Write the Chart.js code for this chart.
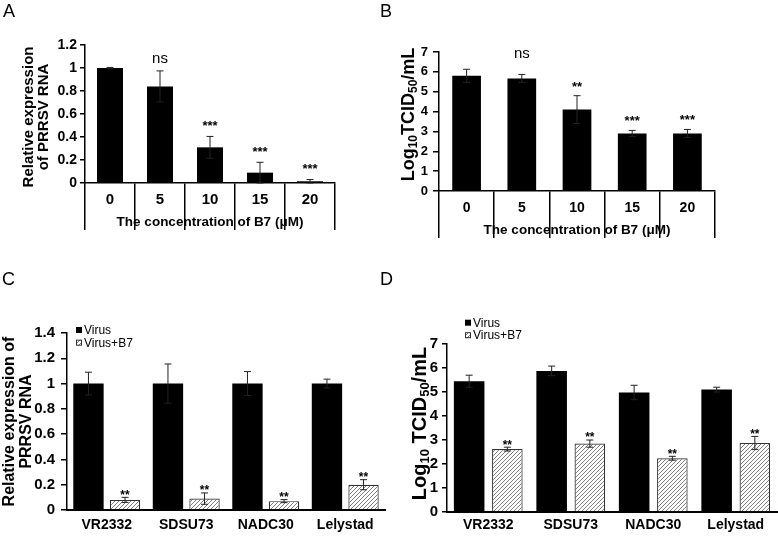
<!DOCTYPE html>
<html>
<head>
<meta charset="utf-8">
<script src="https://cdn.jsdelivr.net/npm/chart.js@4.4.1/dist/chart.umd.min.js"></script>
<style>
  body { margin: 0; background: #fff; }
  #fig { position: relative; width: 778px; height: 536px; overflow: hidden; font-family: "Liberation Sans", Arial, sans-serif; }
  #fig canvas { position: absolute; }
  .tag { position: absolute; font-size: 18px; line-height: 18px; color: #000; }
</style>
</head>
<body>
<div id="fig">
  <canvas id="chartA" width="389" height="268" style="left:0;top:0"></canvas>
  <canvas id="chartB" width="389" height="268" style="left:389px;top:0"></canvas>
  <canvas id="chartC" width="389" height="268" style="left:0;top:268px"></canvas>
  <canvas id="chartD" width="389" height="268" style="left:389px;top:268px"></canvas>
  <div class="tag" style="left:3px;top:2px">A</div>
  <div class="tag" style="left:380px;top:2px">B</div>
  <div class="tag" style="left:2px;top:270px">C</div>
  <div class="tag" style="left:380px;top:270px">D</div>
</div>
<script>
const FONT = '"Liberation Sans", Arial, sans-serif';

// A and B: dose response
const doses = ['0', '5', '10', '15', '20'];
const rnaDose = [1.0, 0.84, 0.31, 0.09, 0.015];
const rnaDoseErr = [0.005, 0.135, 0.095, 0.09, 0.015];
const rnaDoseSig = ['', 'ns', '***', '***', '***'];
const titerDose = [5.8, 5.67, 4.1, 2.9, 2.9];
const titerDoseErr = [0.33, 0.2, 0.7, 0.15, 0.2];
const titerDoseSig = ['', 'ns', '**', '***', '***'];

// C and D: strains
const strains = ['VR2332', 'SDSU73', 'NADC30', 'Lelystad'];
const seriesNames = ['Virus', 'Virus+B7'];
const rnaVirus = [1, 1, 1, 1];
const rnaVirusErr = [0.09, 0.155, 0.095, 0.035];
const rnaB7 = [0.08, 0.09, 0.07, 0.2];
const rnaB7Err = [0.02, 0.045, 0.012, 0.04];
const titerVirus = [5.45, 5.88, 4.98, 5.1];
const titerVirusErr = [0.25, 0.2, 0.3, 0.1];
const titerB7 = [2.62, 2.85, 2.24, 2.88];
const titerB7Err = [0.08, 0.15, 0.08, 0.27];
const strainSig = ['**', '**', '**', '**'];

function hatch() {
  const c = document.createElement('canvas');
  c.width = 4; c.height = 4;
  const g = c.getContext('2d');
  g.fillStyle = '#fff';
  g.fillRect(0, 0, 4, 4);
  g.strokeStyle = '#808080';
  g.lineWidth = 1;
  g.beginPath();
  g.moveTo(0, 4); g.lineTo(4, 0);
  g.moveTo(-1, 1); g.lineTo(1, -1);
  g.moveTo(3, 5); g.lineTo(5, 3);
  g.stroke();
  return g.createPattern(c, 'repeat');
}
const hatchFill = hatch();

// error bars, significance marks, y titles with subscripts, small legend
const decor = {
  id: 'decor',
  afterDatasetsDraw(chart, args, o) {
    const ctx = chart.ctx, y = chart.scales.y;
    ctx.save();
    o.errors.forEach((errs, di) => {
      const vals = chart.data.datasets[di].data;
      chart.getDatasetMeta(di).data.forEach((bar, i) => {
        const top = y.getPixelForValue(vals[i] + errs[i]);
        const bot = y.getPixelForValue(Math.max(vals[i] - errs[i], 0));
        ctx.strokeStyle = '#222';
        ctx.lineWidth = 1;
        ctx.beginPath();
        ctx.moveTo(bar.x, top); ctx.lineTo(bar.x, bot);
        ctx.moveTo(bar.x - 3.5, top); ctx.lineTo(bar.x + 3.5, top);
        ctx.moveTo(bar.x - 3.5, bot); ctx.lineTo(bar.x + 3.5, bot);
        ctx.stroke();
        const s = o.marks[di] ? o.marks[di][i] : '';
        if (!s) return;
        const ns = s === 'ns';
        const size = ns ? o.nsSize : o.starSize;
        const c = top - (ns ? o.nsGap : o.gap);
        ctx.font = (ns ? '' : 'bold ') + size + 'px ' + FONT;
        ctx.fillStyle = '#000';
        ctx.textAlign = 'center';
        ctx.textBaseline = 'alphabetic';
        ctx.fillText(s, bar.x, c + (ns ? 0.26 : 0.57) * size);
      });
    });
    ctx.restore();
  },
  afterDraw(chart, args, o) {
    const ctx = chart.ctx, area = chart.chartArea;
    ctx.save();
    ctx.fillStyle = '#000';
    const cy = (area.top + area.bottom) / 2 + o.title.dy;
    o.title.lines.forEach(line => {
      let w = 0;
      line.segs.forEach(([s, size]) => {
        ctx.font = 'bold ' + size + 'px ' + FONT;
        w += ctx.measureText(s).width;
      });
      ctx.save();
      ctx.translate(line.x, cy);
      ctx.rotate(-Math.PI / 2);
      ctx.textAlign = 'left';
      ctx.textBaseline = 'alphabetic';
      let pos = -w / 2;
      const base = 0.36 * line.segs[0][1];
      line.segs.forEach(([s, size, shift]) => {
        ctx.font = 'bold ' + size + 'px ' + FONT;
        ctx.fillText(s, pos, base + (shift || 0));
        pos += ctx.measureText(s).width;
      });
      ctx.restore();
    });
    if (o.legend) {
      const lg = o.legend;
      chart.data.datasets.forEach((ds, i) => {
        const yc = lg.y + i * lg.step;
        ctx.fillStyle = ds.backgroundColor;
        ctx.fillRect(lg.x, yc - 3, 6, 6);
        if (ds.borderWidth) {
          ctx.strokeStyle = ds.borderColor;
          ctx.lineWidth = 1;
          ctx.strokeRect(lg.x + 0.5, yc - 2.5, 5, 5);
        }
        ctx.fillStyle = '#000';
        ctx.font = '12px ' + FONT;
        ctx.textAlign = 'left';
        ctx.textBaseline = 'middle';
        ctx.fillText(ds.label, lg.x + 8, yc + 0.5);
      });
    }
    ctx.restore();
  }
};

function fmt(v) { return String(Number(v.toFixed(2))); }

function makePanel(id, p) {
  const twoLevel = p.sepLength > 0;
  return new Chart(document.getElementById(id), {
    type: 'bar',
    data: { labels: p.labels, datasets: p.datasets },
    plugins: [decor],
    options: {
      responsive: false,
      animation: false,
      devicePixelRatio: 1,
      layout: { padding: p.padding },
      datasets: { bar: { categoryPercentage: p.catPct, barPercentage: p.barPct } },
      plugins: {
        legend: { display: false },
        tooltip: { enabled: false },
        decor: p.decor
      },
      scales: {
        x: {
          afterFit: s => { s.height = p.xHeight; },
          grid: twoLevel
            ? { offset: true, drawOnChartArea: false, drawTicks: true, tickLength: p.sepLength, color: '#000', lineWidth: 1.5 }
            : { display: false, drawTicks: false },
          border: { color: '#000', width: twoLevel ? 1.5 : 2 },
          ticks: { color: '#000', font: { family: FONT, size: p.xFont, weight: 'bold' }, padding: p.xPad, maxRotation: 0, autoSkip: false },
          title: p.xTitle
            ? { display: true, text: p.xTitle, color: '#000', font: { family: FONT, size: 13.5, weight: 'bold' }, padding: 0 }
            : { display: false }
        },
        y: {
          min: 0,
          max: p.yMax,
          afterFit: s => { s.width = p.yWidth; },
          grid: { drawOnChartArea: false, drawTicks: true, tickLength: p.tickLen, color: '#000', lineWidth: 1.5 },
          border: { color: '#000', width: 1.5 },
          ticks: { stepSize: p.yStep, color: '#000', font: { family: FONT, size: p.yFont, weight: 'bold' }, padding: p.yPad, callback: fmt }
        }
      }
    }
  });
}

makePanel('chartA', {
  labels: doses,
  datasets: [{ data: rnaDose, backgroundColor: '#000' }],
  padding: { left: 0, top: 45, right: 54, bottom: 38 },
  catPct: 1, barPct: 0.52,
  xHeight: 47, sepLength: 47, xFont: 15, xPad: -39,
  xTitle: 'The concentration of B7 (\u03bcM)',
  yMax: 1.2, yStep: 0.2, yWidth: 85, tickLen: 5, yFont: 14, yPad: 3,
  decor: {
    errors: [rnaDoseErr], marks: [rnaDoseSig],
    gap: 14, nsGap: 12, starSize: 13, nsSize: 15,
    title: { dy: 3, lines: [
      { x: 28, segs: [['Relative expression', 15]] },
      { x: 43, segs: [['of PRRSV RNA', 15]] }
    ] }
  }
});

makePanel('chartB', {
  labels: doses,
  datasets: [{ data: titerDose, backgroundColor: '#000' }],
  padding: { left: 0, top: 52, right: 63, bottom: 30 },
  catPct: 1, barPct: 0.52,
  xHeight: 47, sepLength: 47, xFont: 14, xPad: -38.5,
  xTitle: 'The concentration of B7 (\u03bcM)',
  yMax: 7, yStep: 1, yWidth: 50, tickLen: 6, yFont: 13, yPad: 5,
  decor: {
    errors: [titerDoseErr], marks: [titerDoseSig],
    gap: 12.5, nsGap: 20, starSize: 13, nsSize: 15,
    title: { dy: -7, lines: [
      { x: 19, segs: [['Log', 18], ['10', 12, 3], ['TCID', 18], ['50', 12, 3], ['/mL', 18]] }
    ] }
  }
});

makePanel('chartC', {
  labels: strains,
  datasets: [
    { label: seriesNames[0], data: rnaVirus, backgroundColor: '#000' },
    { label: seriesNames[1], data: rnaB7, backgroundColor: hatchFill, borderColor: '#333', borderWidth: 1.2 }
  ],
  padding: { left: 0, top: 65, right: 4, bottom: 0 },
  catPct: 0.92, barPct: 0.83,
  xHeight: 26, sepLength: 0, xFont: 14, xPad: 6.6,
  yMax: 1.4, yStep: 0.2, yWidth: 67, tickLen: 6, yFont: 15, yPad: 6,
  decor: {
    errors: [rnaVirusErr, rnaB7Err], marks: [[], strainSig],
    gap: 5.5, nsGap: 5.5, starSize: 12, nsSize: 14,
    title: { dy: 0, lines: [
      { x: 8, segs: [['Relative expression of', 16]] },
      { x: 25, segs: [['PRRSV RNA', 16]] }
    ] },
    legend: { x: 76, y: 62, step: 12.7 }
  }
});

makePanel('chartD', {
  labels: strains,
  datasets: [
    { label: seriesNames[0], data: titerVirus, backgroundColor: '#000' },
    { label: seriesNames[1], data: titerB7, backgroundColor: hatchFill, borderColor: '#333', borderWidth: 1.2 }
  ],
  padding: { left: 0, top: 76, right: 1, bottom: 0 },
  catPct: 0.926, barPct: 0.8,
  xHeight: 24, sepLength: 0, xFont: 14, xPad: 4.6,
  yMax: 7, yStep: 1, yWidth: 58, tickLen: 5, yFont: 15, yPad: 4,
  decor: {
    errors: [titerVirusErr, titerB7Err], marks: [[], strainSig],
    gap: 5.5, nsGap: 5.5, starSize: 12, nsSize: 14,
    title: { dy: -4.5, lines: [
      { x: 30, segs: [['Log', 20], ['10', 13, 3.2], [' TCID', 20], ['50', 13, 3.2], ['/mL', 20]] }
    ] },
    legend: { x: 76, y: 54.7, step: 12.5 }
  }
});
</script>
</body>
</html>
